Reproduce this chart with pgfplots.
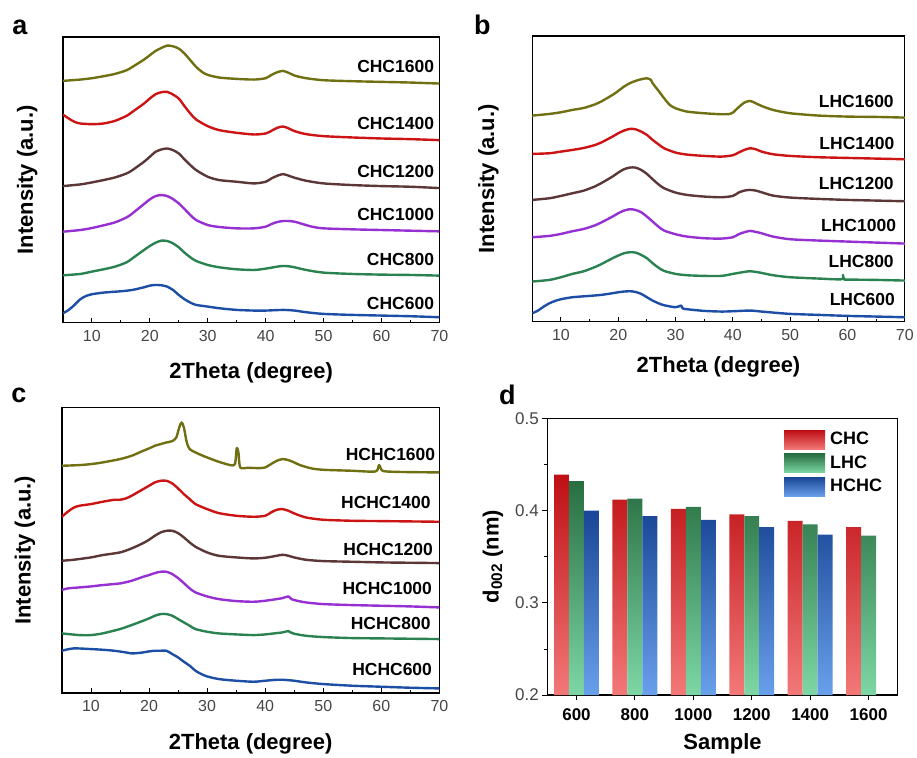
\documentclass[border=0pt]{standalone}
\usepackage{pgfplots}
\pgfplotsset{compat=1.18}
\usepackage{fontspec}
\setmainfont{Liberation Sans}

\definecolor{cOlive}{RGB}{112,112,18}
\definecolor{cRed}{RGB}{205,20,20}
\definecolor{cBrown}{RGB}{92,55,55}
\definecolor{cPurple}{RGB}{150,48,210}
\definecolor{cGreen}{RGB}{42,130,80}
\definecolor{cBlue}{RGB}{28,78,165}
\definecolor{tickgray}{RGB}{70,70,70}
\definecolor{redTop}{RGB}{190,15,20}
\definecolor{redBot}{RGB}{243,120,120}
\definecolor{greenTop}{RGB}{40,110,65}
\definecolor{greenBot}{RGB}{125,215,165}
\definecolor{blueTop}{RGB}{25,70,150}
\definecolor{blueBot}{RGB}{105,160,235}

\pgfplotsset{
  xrd/.style={
    scale only axis, width=377pt, height=286pt,
    xmin=5, xmax=70, xtick={10,20,...,70}, minor x tick num=1,
    ytick=\empty, y dir=reverse,
    xtick pos=left, tick align=inside,
    axis line style={line width=1.3pt},
    tick style={line width=0.9pt, black},
    major tick length=5pt, minor tick length=3pt,
    /pgf/number format/assume math mode=true,
    tick label style={font=\fontsize{16}{18}\selectfont, text=tickgray},
    xticklabel style={yshift=-4pt},
    label style={font=\fontsize{22}{24}\selectfont\bfseries},
    xlabel={2Theta (degree)}, ylabel={Intensity (a.u.)},
    every axis plot/.append style={line width=2.4pt, line join=round, no markers, smooth, tension=0.45},
    clip=true,
  },
}
\tikzset{lbl/.style={anchor=east, font=\fontsize{17.5}{18}\selectfont\bfseries, inner sep=0pt}}

\begin{document}
\begin{tikzpicture}
\path (0pt,0pt) rectangle (917pt,759pt);

% ---------------- panel a
\begin{axis}[xrd, at={(63pt,436pt)}, anchor=south west, ymin=110, ymax=968,
  xlabel style={at={(axis description cs:0.5,-0.175)}, anchor=center},
  ylabel style={at={(axis description cs:-0.095,0.5)}, anchor=center}]
\addplot[cOlive] coordinates {(5,242)(8,238)(10,234)(12,228)(14,221)(16,210)(17,200)(19,178)(20,165)(21,152)(22,143)(23,136)(24,138)(25,145)(26,160)(27,180)(28,200)(29,215)(30,224)(32,232)(35,236)(38,238)(40,234)(41,224)(42,216)(43,212)(44,218)(45,226)(47,234)(50,240)(55,243)(60,245)(65,247)(70,250)};
\addplot[cRed] coordinates {(5,343)(6,355)(7,365)(8,370)(10,372)(12,370)(14,362)(16,347)(17,335)(19,310)(20,295)(21,282)(22,276)(23,275)(24,283)(25,295)(26,318)(27,340)(28,358)(30,378)(32,390)(35,398)(38,403)(40,400)(41,392)(42,383)(43,379)(44,385)(45,393)(47,402)(50,408)(55,412)(60,415)(65,417)(70,420)};
\addplot[cBrown] coordinates {(5,558)(8,553)(10,547)(12,540)(14,532)(16,520)(17,510)(19,485)(20,470)(21,455)(22,448)(23,445)(24,450)(25,460)(26,478)(27,495)(28,510)(30,530)(32,540)(35,545)(38,550)(40,545)(41,535)(42,527)(43,522)(44,527)(45,533)(47,542)(50,550)(55,555)(60,558)(65,560)(70,564)};
\addplot[cPurple] coordinates {(5,695)(8,690)(10,684)(12,676)(14,667)(16,652)(17,640)(19,612)(20,598)(21,588)(22,585)(23,588)(24,597)(25,610)(26,627)(27,645)(28,660)(30,675)(32,681)(35,685)(38,685)(40,680)(41,672)(42,666)(43,663)(44,663)(45,665)(46,670)(48,680)(50,685)(55,688)(60,690)(65,692)(70,694)};
\addplot[cGreen] coordinates {(5,826)(8,822)(10,815)(12,808)(14,800)(16,787)(17,775)(19,750)(20,738)(21,728)(22,722)(23,723)(24,730)(25,742)(26,758)(27,772)(28,783)(30,795)(32,802)(35,808)(38,810)(40,806)(42,800)(43,798)(44,799)(45,802)(47,810)(50,818)(55,822)(60,824)(65,825)(70,827)};
\addplot[cBlue] coordinates {(5,940)(6,930)(7,915)(8,898)(9,888)(10,883)(12,878)(15,874)(17,870)(19,862)(20,857)(21,855)(22,856)(23,860)(24,870)(25,885)(26,898)(27,908)(28,915)(30,920)(32,925)(35,930)(38,932)(40,932)(43,930)(45,932)(47,937)(50,942)(55,945)(60,947)(65,949)(70,952)};
\node[lbl] at (axis cs:69.1,200) {CHC1600};
\node[lbl] at (axis cs:69.1,370) {CHC1400};
\node[lbl] at (axis cs:69.1,513) {CHC1200};
\node[lbl] at (axis cs:69.1,642) {CHC1000};
\node[lbl] at (axis cs:69.1,778) {CHC800};
\node[lbl] at (axis cs:69.1,910) {CHC600};
\end{axis}

% ---------------- panel b
\begin{axis}[xrd, at={(533pt,437pt)}, anchor=south west, width=373pt, ymin=108, ymax=965,
  xlabel style={at={(axis description cs:0.5,-0.157)}, anchor=center},
  ylabel style={at={(axis description cs:-0.118,0.5)}, anchor=center}]
\addplot[cOlive] coordinates {(5,347)(8,342)(10,337)(12,330)(14,324)(16,313)(17,305)(19,285)(20,273)(21,260)(22,250)(23,243)(24,238)(25,235)(25.7,240)(26,250)(27,272)(28,295)(29,315)(30,325)(32,335)(35,340)(38,343)(39.5,342)(40,338)(41,322)(42,308)(43,303)(44,310)(45,318)(47,330)(50,340)(55,347)(60,350)(65,351)(70,353)};
\addplot[cRed] coordinates {(5,462)(8,460)(10,455)(12,450)(14,444)(16,435)(17,428)(19,410)(20,400)(21,392)(22,387)(23,388)(24,395)(25,405)(26,420)(27,433)(28,445)(30,458)(32,464)(35,468)(38,470)(40,466)(41,458)(42,450)(43,445)(44,448)(45,455)(47,463)(50,468)(55,472)(60,474)(65,476)(70,478)};
\addplot[cBrown] coordinates {(5,600)(8,595)(10,588)(12,580)(14,572)(16,559)(17,550)(19,530)(20,518)(21,508)(22,503)(23,503)(24,510)(25,522)(26,538)(27,553)(28,565)(30,578)(32,585)(35,590)(38,592)(40,588)(41,578)(42,572)(43,570)(44,572)(45,577)(47,587)(50,593)(55,597)(60,600)(65,602)(70,604)};
\addplot[cPurple] coordinates {(5,712)(8,708)(10,702)(12,694)(14,687)(16,676)(17,668)(19,650)(20,640)(21,632)(22,628)(23,630)(24,637)(25,650)(26,665)(27,680)(28,692)(30,703)(32,710)(35,715)(38,716)(40,712)(41,703)(42,697)(43,693)(44,696)(45,700)(47,710)(50,718)(55,722)(60,725)(65,728)(70,731)};
\addplot[cGreen] coordinates {(5,845)(8,840)(10,832)(12,822)(14,814)(16,801)(17,793)(19,775)(20,767)(21,760)(22,757)(23,758)(24,765)(25,775)(26,790)(27,803)(28,813)(30,822)(32,826)(35,828)(38,828)(40,822)(42,816)(43,814)(44,816)(45,819)(47,826)(50,832)(55,836)(59,838)(59.2,825)(59.4,838)(60,839)(65,840)(70,842)};
\addplot[cBlue] coordinates {(5,940)(6,932)(7,920)(8,910)(9,903)(10,898)(12,892)(15,888)(17,885)(19,880)(20,877)(21,875)(22,874)(23,876)(24,882)(25,892)(26,902)(27,910)(28,916)(30,922)(31,917)(31.2,925)(32,928)(35,933)(38,935)(40,934)(43,932)(45,935)(47,938)(50,942)(55,945)(60,948)(65,950)(70,952)};
\node[lbl] at (axis cs:68.1,305) {LHC1600};
\node[lbl] at (axis cs:68.2,430) {LHC1400};
\node[lbl] at (axis cs:68.1,550) {LHC1200};
\node[lbl] at (axis cs:68.5,678) {LHC1000};
\node[lbl] at (axis cs:68.1,785) {LHC800};
\node[lbl] at (axis cs:68.3,898) {LHC600};
\end{axis}

% ---------------- panel c
\begin{axis}[xrd, at={(62pt,65pt)}, anchor=south west, width=378pt, ymin=55, ymax=912,
  xlabel style={at={(axis description cs:0.5,-0.178)}, anchor=center},
  ylabel style={at={(axis description cs:-0.098,0.5)}, anchor=center}]
\addplot[cOlive] coordinates {(5,230)(8,228)(10,225)(12,220)(15,210)(17,200)(19,185)(20,178)(21,170)(22,165)(23,160)(24,156)(24.7,145)(25.2,115)(25.6,100)(26,115)(26.5,160)(27,180)(28,190)(29,198)(30,205)(32,218)(34,228)(34.8,225)(35.1,178)(35.4,190)(35.7,235)(37,236)(39,237)(40,235)(41,225)(42,215)(43,210)(44,213)(45,220)(46,228)(48,238)(50,242)(55,245)(59,247)(59.6,228)(60.2,245)(62,248)(65,249)(70,250)};
\addplot[cRed] coordinates {(5,383)(6,368)(7,356)(8,350)(10,345)(12,338)(14,332)(15,332)(16,328)(17,320)(18,310)(19,300)(20,290)(21,280)(22,275)(23,275)(24,283)(25,298)(26,315)(27,330)(28,345)(30,360)(32,372)(35,380)(38,383)(40,380)(41,370)(42,362)(43,360)(44,365)(45,373)(47,385)(50,392)(55,395)(60,396)(65,397)(70,398)};
\addplot[cBrown] coordinates {(5,515)(7,512)(10,505)(12,498)(15,490)(17,478)(19,462)(20,452)(21,440)(22,430)(23,425)(24,425)(25,432)(26,445)(27,460)(28,473)(30,490)(32,500)(35,505)(38,508)(40,506)(42,500)(43,497)(44,500)(45,505)(47,512)(50,516)(55,518)(60,520)(65,521)(70,522)};
\addplot[cPurple] coordinates {(5,603)(6,598)(8,595)(10,592)(12,588)(15,583)(17,575)(19,563)(20,558)(21,552)(22,548)(23,548)(24,555)(25,567)(26,582)(27,598)(28,610)(30,622)(32,630)(35,636)(38,638)(40,635)(42,630)(43,627)(44,622)(44.5,630)(45,633)(47,640)(50,645)(55,648)(60,650)(65,652)(70,655)};
\addplot[cGreen] coordinates {(5,733)(8,738)(10,738)(12,733)(15,720)(17,708)(19,695)(20,688)(21,680)(22,675)(23,675)(24,680)(25,690)(26,700)(27,710)(28,720)(30,728)(32,733)(35,736)(38,738)(40,736)(42,732)(43,730)(44,726)(44.5,731)(45,734)(47,740)(50,744)(55,747)(60,748)(65,749)(70,750)};
\addplot[cBlue] coordinates {(5,785)(7,778)(10,780)(12,782)(14,785)(16,790)(17,793)(18,792)(19,790)(20,787)(21,785)(22,785)(23,785)(24,795)(25,805)(26,818)(27,830)(28,845)(29,855)(30,862)(32,870)(35,875)(38,878)(40,875)(42,872)(43,872)(45,875)(47,880)(50,885)(55,890)(60,893)(65,896)(70,898)};
\node[lbl] at (axis cs:69.3,195) {HCHC1600};
\node[lbl] at (axis cs:68.5,340) {HCHC1400};
\node[lbl] at (axis cs:68.9,480) {HCHC1200};
\node[lbl] at (axis cs:68.75,597) {HCHC1000};
\node[lbl] at (axis cs:68.5,703) {HCHC800};
\node[lbl] at (axis cs:68.75,840) {HCHC600};
\end{axis}

% ---------------- panel d
\begin{axis}[at={(548pt,63pt)}, anchor=south west, scale only axis, width=351pt, height=277pt,
  ybar=0pt, bar width=15pt,
  xmin=-0.5, xmax=5.5, ymin=0.2, ymax=0.5,
  xtick={0,...,5}, xticklabels={600,800,1000,1200,1400,1600},
  ytick={0.2,0.3,0.4,0.5}, minor y tick num=1,
  xtick pos=left, ytick pos=left, tick align=outside,
  axis line style={line width=1.3pt},
  tick style={line width=0.9pt, black},
  major tick length=5pt, minor tick length=3pt,
  /pgf/number format/assume math mode=true,
  yticklabel style={font=\fontsize{17}{18}\selectfont, text=tickgray, /pgf/number format/fixed, /pgf/number format/precision=1, /pgf/number format/fixed zerofill},
  xticklabel style={font=\fontsize{17}{18}\selectfont\bfseries, text=black, yshift=-5pt},
  label style={font=\fontsize{22}{24}\selectfont\bfseries},
  xlabel={Sample}, ylabel={d\textsubscript{002} (nm)},
  xlabel style={at={(axis description cs:0.5,-0.178)}, anchor=center},
  ylabel style={at={(axis description cs:-0.155,0.5)}, anchor=center},
  legend style={at={(axis description cs:0.97,0.965)}, anchor=north east, draw=none, fill=none,
    font=\fontsize{18}{18}\selectfont\bfseries, row sep=4.5pt,
    /tikz/every odd column/.append style={column sep=3pt}},
  legend cell align=left,
]
\addplot[draw=none, top color=redTop, bottom color=redBot,
  legend image code/.code={\path[top color=redTop, bottom color=redBot] (0pt,-10pt) rectangle (41pt,9pt);}]
  coordinates {(0,0.439)(1,0.412)(2,0.402)(3,0.396)(4,0.389)(5,0.382)};
\addplot[draw=none, top color=greenTop, bottom color=greenBot,
  legend image code/.code={\path[top color=greenTop, bottom color=greenBot] (0pt,-10pt) rectangle (41pt,9pt);}]
  coordinates {(0,0.432)(1,0.413)(2,0.404)(3,0.394)(4,0.385)(5,0.373)};
\addplot[draw=none, top color=blueTop, bottom color=blueBot,
  legend image code/.code={\path[top color=blueTop, bottom color=blueBot] (0pt,-10pt) rectangle (41pt,9pt);}]
  coordinates {(0,0.400)(1,0.394)(2,0.390)(3,0.382)(4,0.374)};
\legend{CHC,LHC,HCHC}
\end{axis}

% panel letters
\node[anchor=base, font=\fontsize{27}{27}\selectfont\bfseries] at (20pt,724pt) {a};
\node[anchor=base, font=\fontsize{27}{27}\selectfont\bfseries] at (483pt,724pt) {b};
\node[anchor=base, font=\fontsize{27}{27}\selectfont\bfseries] at (19pt,356pt) {c};
\node[anchor=base, font=\fontsize{27}{27}\selectfont\bfseries] at (508pt,354pt) {d};
\end{tikzpicture}
\end{document}
